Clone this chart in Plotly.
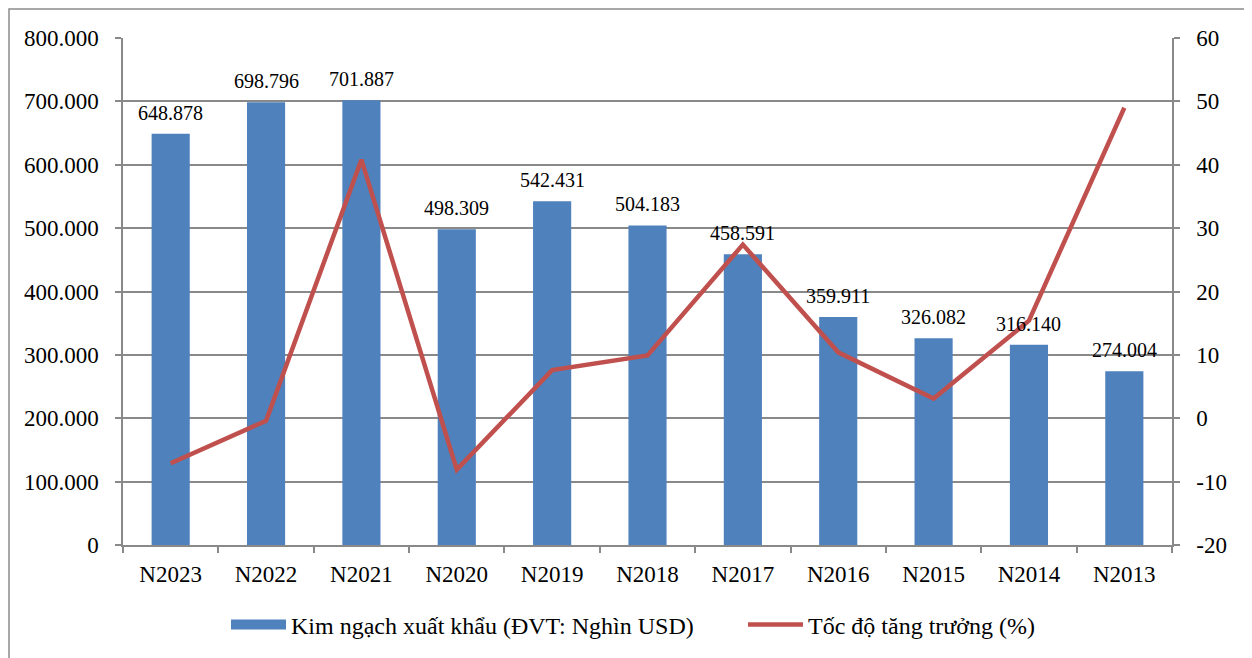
import plotly.graph_objects as go

categories = ["N2023", "N2022", "N2021", "N2020", "N2019", "N2018",
              "N2017", "N2016", "N2015", "N2014", "N2013"]
export_values = [648878, 698796, 701887, 498309, 542431, 504183,
                 458591, 359911, 326082, 316140, 274004]
export_labels = ["648.878", "698.796", "701.887", "498.309", "542.431", "504.183",
                 "458.591", "359.911", "326.082", "316.140", "274.004"]
growth_rate = [-7.1, -0.4, 40.8, -8.1, 7.6, 9.9, 27.4, 10.4, 3.1, 15.4, 49.0]

left_tickvals = [0, 100000, 200000, 300000, 400000, 500000, 600000, 700000, 800000]
left_ticktext = ["0", "100.000", "200.000", "300.000", "400.000", "500.000",
                 "600.000", "700.000", "800.000"]
right_tickvals = [-20, -10, 0, 10, 20, 30, 40, 50, 60]
right_ticktext = ["-20", "-10", "0", "10", "20", "30", "40", "50", "60"]

BAR_NAME = "Kim ngạch xuất khẩu (ĐVT: Nghìn USD)"
LINE_NAME = "Tốc độ tăng trưởng (%)"
BAR_COLOR = "#4F81BD"
LINE_COLOR = "#C0504D"

FONT = "Liberation Serif"
GRID = "#898989"

fig = go.Figure()
fig.add_trace(go.Bar(
    x=categories, y=export_values, name=BAR_NAME,
    marker=dict(color=BAR_COLOR, line=dict(width=0)),
    yaxis="y", showlegend=False,
))
# legend entry for the bars drawn as a wide swatch
fig.add_trace(go.Scatter(
    x=[None], y=[None], name=BAR_NAME, mode="lines",
    line=dict(color=BAR_COLOR, width=13), yaxis="y", showlegend=True,
    legend="legend",
))
fig.add_trace(go.Scatter(
    x=categories, y=growth_rate, name=LINE_NAME,
    mode="lines", line=dict(color=LINE_COLOR, width=4.5),
    yaxis="y2", legend="legend2",
))

for c, v, t in zip(categories, export_values, export_labels):
    fig.add_annotation(x=c, y=v, xref="x", yref="y", text=t, showarrow=False,
                       yanchor="bottom", yshift=8,
                       font=dict(family=FONT, size=20, color="black"))

W, H = 1244, 650
L, R, T, B = 115, 80, 30, 113
PW, PH = W - L - R, H - T - B

legend_common = dict(orientation="h", xanchor="left", y=-80 / PH, yanchor="middle",
                     font=dict(family=FONT, size=24, color="black"), itemwidth=55,
                     bgcolor="rgba(0,0,0,0)")

fig.update_layout(
    width=W, height=H,
    margin=dict(l=L, r=R, t=T, b=B, autoexpand=False),
    paper_bgcolor="white", plot_bgcolor="white",
    font=dict(family=FONT, size=22, color="black"),
    bargap=0.6,
    showlegend=True,
    legend=dict(x=(218 - L) / PW, **legend_common),
    legend2=dict(x=(735 - L) / PW, **legend_common),
    xaxis=dict(
        type="category", showline=True, linecolor=GRID, linewidth=1.5,
        ticks="outside", tickson="boundaries", ticklen=6, tickcolor=GRID, tickwidth=1.5,
        showgrid=False, tickfont=dict(family=FONT, size=23), ticklabelstandoff=8,
    ),
    yaxis=dict(
        range=[0, 800000], tickvals=left_tickvals, ticktext=left_ticktext,
        showline=True, linecolor=GRID, linewidth=1.5,
        ticks="outside", ticklen=6, tickcolor=GRID, tickwidth=1.5,
        showgrid=True, gridcolor=GRID, gridwidth=1.5, zeroline=False,
        tickfont=dict(family=FONT, size=23), ticklabelstandoff=12,
    ),
    yaxis2=dict(
        range=[-20, 60], tickvals=right_tickvals, ticktext=right_ticktext,
        overlaying="y", side="right",
        showline=True, linecolor=GRID, linewidth=1.5,
        ticks="outside", ticklen=6, tickcolor=GRID, tickwidth=1.5,
        showgrid=False, zeroline=False,
        tickfont=dict(family=FONT, size=23), ticklabelstandoff=12,
    ),
)

# outer chart frame
fig.add_shape(type="rect", xref="paper", yref="paper",
              x0=(1 - L) / PW, x1=(1239 - L) / PW,
              y0=-(B + 20) / PH, y1=(PH + T - 1) / PH,
              line=dict(color="#8c8c8c", width=1.5), fillcolor="rgba(0,0,0,0)",
              layer="below")

fig.write_html("out.html")
